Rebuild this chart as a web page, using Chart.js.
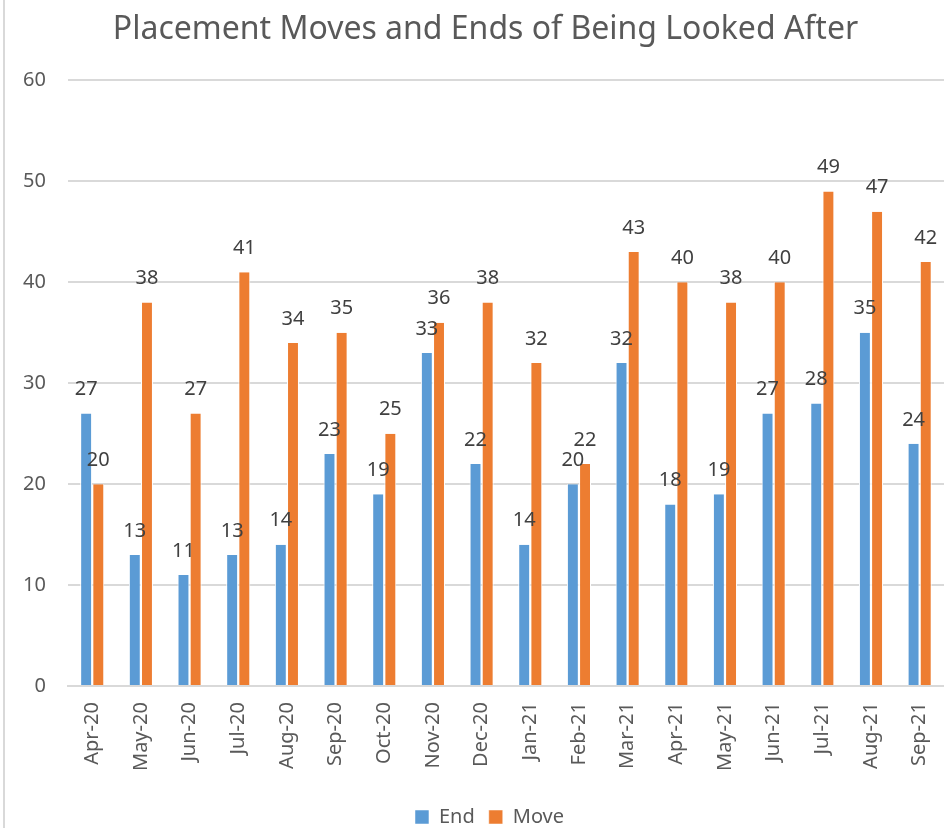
<!DOCTYPE html>
<html>
<head>
<meta charset="utf-8">
<script src="https://cdn.jsdelivr.net/npm/chart.js@4/dist/chart.umd.min.js"></script>
<style>
  html,body{margin:0;padding:0;background:#fff;}
  #wrap{position:relative;width:944px;height:828px;}
  #edge{position:absolute;left:3px;top:0;width:2px;height:828px;background:#d9d9d9;}
</style>
</head>
<body>
<div id="wrap">
  <canvas id="chart" width="944" height="828"></canvas>
  <div id="edge"></div>
</div>
<script>
/* ===== Data ===== */
const months = ['Apr-20','May-20','Jun-20','Jul-20','Aug-20','Sep-20','Oct-20','Nov-20','Dec-20',
                'Jan-21','Feb-21','Mar-21','Apr-21','May-21','Jun-21','Jul-21','Aug-21','Sep-21'];
const endValues  = [27,13,11,13,14,23,19,33,22,14,20,32,18,19,27,28,35,24];
const moveValues = [20,38,27,41,34,35,25,36,38,32,22,43,40,38,40,49,47,42];
const yTicks = [0,10,20,30,40,50,60];

const FONT = '"Noto Sans", sans-serif';
const GREY = '#595959';

/* value labels above each bar */
const valueLabels = {
  id:'valueLabels',
  afterDatasetsDraw(chart){
    const ctx = chart.ctx;
    ctx.save();
    ctx.font = '20px ' + FONT;
    ctx.fillStyle = '#404040';
    ctx.textAlign = 'center';
    ctx.textBaseline = 'bottom';
    chart.data.datasets.forEach((ds,i)=>{
      chart.getDatasetMeta(i).data.forEach((bar,j)=>{
        ctx.fillText(ds.data[j], bar.x, bar.y - 14);
      });
    });
    ctx.restore();
  }
};

/* title and legend sit a little left of the plot centre; legend a bit lower */
const shiftBlocks = {
  id:'shiftBlocks',
  afterLayout(chart){
    const s = 12;
    if(chart.titleBlock){ chart.titleBlock.left += s; chart.titleBlock.right += s; }
    if(chart.legend){
      chart.legend.left += s + 4; chart.legend.right += s + 4;
      chart.legend.top += 9; chart.legend.bottom += 9;
    }
  }
};

new Chart(document.getElementById('chart'), {
  type:'bar',
  data:{
    labels: months,
    datasets:[
      { label:'End',  data:endValues,  backgroundColor:'#5B9BD5', borderColor:'#fff', borderWidth:{left:1,right:1} },
      { label:'Move', data:moveValues, backgroundColor:'#ED7D31', borderColor:'#fff', borderWidth:{left:1,right:1} }
    ]
  },
  options:{
    responsive:false,
    animation:false,
    layout:{ padding:{ left:1, right:-2, top:0, bottom:0 } },
    datasets:{ bar:{ categoryPercentage:0.5, barPercentage:0.98 } },
    plugins:{
      title:{ display:true, text:'Placement Moves and Ends of Being Looked After',
              color:GREY, font:{ family:FONT, size:32, weight:'normal' }, padding:{ top:11, bottom:31 } },
      legend:{ position:'bottom',
               labels:{ color:GREY, font:{ family:FONT, size:20 }, boxWidth:14, boxHeight:14, padding:14 } },
      tooltip:{ enabled:false }
    },
    scales:{
      x:{
        grid:{ display:false },
        border:{ color:'#d9d9d9', width:2 },
        ticks:{ color:GREY, font:{ family:FONT, size:20 }, minRotation:90, maxRotation:90, padding:8 },
        afterFit(axis){ axis.paddingLeft = 0; axis.paddingRight = 0; axis.height += 5; }
      },
      y:{
        min:yTicks[0], max:yTicks[yTicks.length-1],
        grid:{ color:'#d9d9d9', lineWidth:2, drawTicks:false },
        border:{ display:false },
        afterBuildTicks(axis){ axis.ticks = yTicks.map(v=>({value:v})); },
        ticks:{ color:GREY, font:{ family:FONT, size:20 }, padding:22 }
      }
    }
  },
  plugins:[valueLabels, shiftBlocks]
});
</script>
</body>
</html>
